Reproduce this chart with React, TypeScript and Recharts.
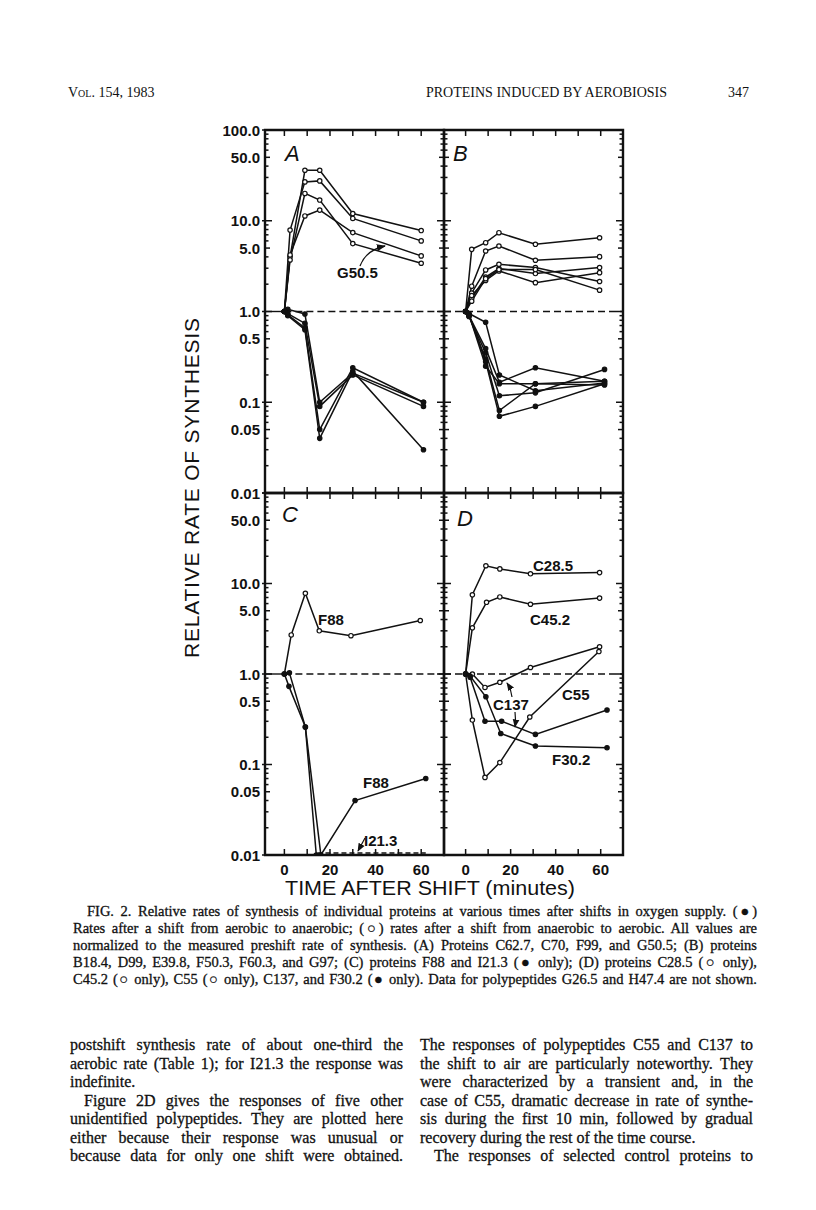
import React from 'react';
import { LineChart, Line, XAxis, YAxis, ReferenceLine, ReferenceArea } from 'recharts';

// --- values (minutes after shift, relative rate) ---

// panel A, shift to aerobic (open) and to anaerobic (filled)
const A_UP_T = [0, 2.5, 9, 15.5, 30, 60];
const A_UP_1 = [1, 4.0, 36, 36, 12, 7.8];
const A_UP_2 = [1, 7.9, 26.8, 27.5, 10.6, 6.0];
const A_UP_3 = [1, 3.7, 20, 16.9, 5.6, 3.4];
const A_UP_4 = [1, 4.2, 11.3, 13.1, 7.4, 4.1];
const A_DN_T = [0, 1.5, 9, 15.5, 30, 61];
const A_DN_1 = [1, 1.06, 0.94, 0.1, 0.21, 0.1];
const A_DN_2 = [1, 0.95, 0.74, 0.09, 0.2, 0.09];
const A_DN_3 = [1, 0.92, 0.66, 0.05, 0.24, 0.1];
const A_DN_4 = [1, 0.9, 0.63, 0.04, 0.22, 0.03];

// panel B
const B_UP_T = [0, 2.7, 8.9, 14.8, 31, 59.5];
const B_UP_1 = [1, 4.84, 5.73, 7.38, 5.5, 6.5];
const B_UP_2 = [1, 1.9, 4.64, 5.27, 3.67, 4.02];
const B_UP_3 = [1, 1.6, 2.87, 3.31, 3.05, 2.14];
const B_UP_4 = [1, 1.4, 2.4, 2.97, 2.62, 3.05];
const B_UP_5 = [1, 1.5, 2.2, 2.8, 2.08, 2.68];
const B_UP_6 = [1, 1.3, 2.3, 2.9, 2.9, 1.72];
const B_DN_T = [0, 1.5, 8.9, 15, 31, 61.7];
const B_DN_1 = [1, 0.95, 0.76, 0.2, 0.134, 0.163];
const B_DN_2 = [1, 0.9, 0.39, 0.166, 0.24, 0.17];
const B_DN_3 = [1, 0.92, 0.25, 0.16, 0.16, 0.155];
const B_DN_4 = [1, 0.88, 0.35, 0.118, 0.127, 0.23];
const B_DN_5 = [1, 0.9, 0.3, 0.081, 0.16, 0.17];
const B_DN_6 = [1, 0.93, 0.28, 0.07, 0.09, 0.16];

// panel C
const C_F88_UP_T = [0, 3, 9.2, 15.3, 29.2, 59.6];
const C_F88_UP = [1, 2.7, 7.8, 3.0, 2.65, 3.9];
const C_F88_DN_T = [0, 2.2, 9.2, 16, 31, 62];
const C_F88_DN = [1, 1.03, 0.26, 0.01, 0.04, 0.07];
const C_I21_T = [0, 2, 9.2, 14];
const C_I21 = [1, 0.73, 0.26, 0.01];
const C_I21_TAIL_T = [14.5, 62];
const C_I21_TAIL = [0.0105, 0.0105];

// panel D
const D_C285_T = [0, 3, 9, 15.2, 28.8, 59.5];
const D_C285 = [1, 7.5, 15.7, 14.5, 12.8, 13.2];
const D_C452_T = [0, 3, 9.3, 15.2, 28.8, 59.5];
const D_C452 = [1, 3.24, 6.2, 7.1, 5.9, 6.9];
const D_C137_UP_T = [0, 3, 8.6, 15.2, 28.8, 59.5];
const D_C137_UP = [1, 1.0, 0.71, 0.81, 1.18, 2.0];
const D_C137_DN_T = [0, 2, 8.6, 16, 31, 62.8];
const D_C137_DN = [1, 0.92, 0.3, 0.3, 0.215, 0.4];
const D_C55_T = [0, 3, 8.6, 15.2, 28.5, 59.2];
const D_C55 = [1, 0.31, 0.072, 0.105, 0.335, 1.77];
const D_F302_T = [0, 2, 9, 15.6, 31, 62.8];
const D_F302 = [1, 0.95, 0.56, 0.22, 0.16, 0.153];

// axis ticks
const LOG_TICKS = [
  0.01, 0.02, 0.03, 0.04, 0.05, 0.06, 0.07, 0.08, 0.09,
  0.1, 0.2, 0.3, 0.4, 0.5, 0.6, 0.7, 0.8, 0.9,
  1, 2, 3, 4, 5, 6, 7, 8, 9,
  10, 20, 30, 40, 50, 60, 70, 80, 90, 100,
];
const Y_LABEL_VALUES = [100, 50, 10, 5, 1, 0.5, 0.1, 0.05, 0.01];
const Y_LABEL_TEXT = ['100.0', '50.0', '10.0', '5.0', '1.0', '0.5', '0.1', '0.05', '0.01'];
const X_TICKS = [0, 10, 20, 30, 40, 50, 60];
const X_LABELS = [0, 20, 40, 60];

const INK = '#111';
const SANS = '"Liberation Sans", Arial, Helvetica, sans-serif';
const SERIF = '"Liberation Serif", "Times New Roman", Times, serif';
const ML = 70;
const MT = 12;
const MR = 12;
const MB = 30;
const AX = 10; // size given to the axes themselves

const zip = (ts: number[], vs: number[]) => ts.map((t, i) => ({ t, v: vs[i] }));

type Series = { data: { t: number; v: number }[]; open?: boolean; dashed?: boolean };

function tickLen(v: number) {
  const l = Math.log10(v);
  if (Math.abs(l - Math.round(l)) < 1e-6) return 7;
  const m = v / Math.pow(10, Math.floor(l + 1e-9));
  if (Math.abs(m - 5) < 1e-6) return 5;
  return 3.5;
}

function labelFor(v: number) {
  const i = Y_LABEL_VALUES.findIndex((x) => Math.abs(x - v) < 1e-9);
  return i < 0 ? null : Y_LABEL_TEXT[i];
}

interface PanelProps {
  left: number;
  top: number;
  w: number;
  h: number;
  xDomain: [number, number];
  series: Series[];
  yLabels: boolean;
  skipTopLabel?: boolean;
  xLabels: boolean;
  solidStart?: boolean;
}

function Panel({ left, top, w, h, xDomain, series, yLabels, skipTopLabel, xLabels, solidStart }: PanelProps) {
  const renderYTick = (props: any) => {
    const { y, payload } = props;
    const v = payload.value;
    const len = tickLen(v);
    const lab = yLabels ? labelFor(v) : null;
    const showLab = lab && !(skipTopLabel && v === 100);
    return (
      <g>
        <line x1={ML - (len === 7 && yLabels ? 3 : 0)} x2={ML + len} y1={y} y2={y} stroke={INK} strokeWidth={1.5} />
        <line x1={ML + w} x2={ML + w - len} y1={y} y2={y} stroke={INK} strokeWidth={1.5} />
        {showLab && (
          <text x={ML - 5} y={y} textAnchor="end" dominantBaseline="central" fontFamily={SANS} fontWeight="bold" fontSize={15} fill={INK}>
            {lab}
          </text>
        )}
      </g>
    );
  };

  const renderXTick = (props: any) => {
    const { x, payload } = props;
    const v = payload.value;
    return (
      <g>
        <line x1={x} x2={x} y1={MT} y2={MT + 6} stroke={INK} strokeWidth={1.5} />
        <line x1={x} x2={x} y1={MT + h} y2={MT + h - 6} stroke={INK} strokeWidth={1.5} />
        {xLabels && X_LABELS.includes(v) && (
          <text x={x} y={MT + h + 14} textAnchor="middle" dominantBaseline="central" fontFamily={SANS} fontWeight="bold" fontSize={15} fill={INK}>
            {v}
          </text>
        )}
      </g>
    );
  };

  return (
    <div style={{ position: 'absolute', left: left - ML, top: top - MT }}>
      <LineChart width={w + ML + MR} height={h + MT + MB} margin={{ top: MT, right: MR, bottom: MB - AX, left: ML - AX }}>
        <XAxis
          type="number"
          dataKey="t"
          domain={xDomain}
          allowDataOverflow
          ticks={X_TICKS}
          interval={0}
          height={AX}
          axisLine={false}
          tickLine={false}
          tick={renderXTick}
        />
        <YAxis
          type="number"
          scale="log"
          domain={[0.01, 100]}
          allowDataOverflow
          ticks={LOG_TICKS}
          interval={0}
          width={AX}
          axisLine={false}
          tickLine={false}
          tick={renderYTick}
        />
        <ReferenceArea x1={xDomain[0]} x2={xDomain[1]} y1={0.01} y2={100} fill="none" stroke={INK} strokeWidth={2.4} />
        {solidStart && (
          <ReferenceLine segment={[{ x: xDomain[0], y: 1 }, { x: 0, y: 1 }]} stroke={INK} strokeWidth={1.4} />
        )}
        <ReferenceLine
          segment={[{ x: solidStart ? 0 : xDomain[0], y: 1 }, { x: xDomain[1], y: 1 }]}
          stroke={INK}
          strokeWidth={1.3}
          strokeDasharray="7 4"
        />
        {series.map((s, i) => (
          <Line
            key={i}
            data={s.data}
            dataKey="v"
            type="linear"
            stroke={INK}
            strokeWidth={1.5}
            strokeDasharray={s.dashed ? '5 3' : undefined}
            dot={s.dashed ? false : { r: 2.2, fill: s.open ? '#fff' : INK, stroke: INK, strokeWidth: 1.2 }}
            isAnimationActive={false}
          />
        ))}
      </LineChart>
    </div>
  );
}

const SERIES_A: Series[] = [
  { data: zip(A_UP_T, A_UP_1), open: true },
  { data: zip(A_UP_T, A_UP_2), open: true },
  { data: zip(A_UP_T, A_UP_3), open: true },
  { data: zip(A_UP_T, A_UP_4), open: true },
  { data: zip(A_DN_T, A_DN_1) },
  { data: zip(A_DN_T, A_DN_2) },
  { data: zip(A_DN_T, A_DN_3) },
  { data: zip(A_DN_T, A_DN_4) },
];
const SERIES_B: Series[] = [
  { data: zip(B_UP_T, B_UP_1), open: true },
  { data: zip(B_UP_T, B_UP_2), open: true },
  { data: zip(B_UP_T, B_UP_3), open: true },
  { data: zip(B_UP_T, B_UP_4), open: true },
  { data: zip(B_UP_T, B_UP_5), open: true },
  { data: zip(B_UP_T, B_UP_6), open: true },
  { data: zip(B_DN_T, B_DN_1) },
  { data: zip(B_DN_T, B_DN_2) },
  { data: zip(B_DN_T, B_DN_3) },
  { data: zip(B_DN_T, B_DN_4) },
  { data: zip(B_DN_T, B_DN_5) },
  { data: zip(B_DN_T, B_DN_6) },
];
const SERIES_C: Series[] = [
  { data: zip(C_F88_UP_T, C_F88_UP), open: true },
  { data: zip(C_F88_DN_T, C_F88_DN) },
  { data: zip(C_I21_T, C_I21) },
  { data: zip(C_I21_TAIL_T, C_I21_TAIL), dashed: true },
];
const SERIES_D: Series[] = [
  { data: zip(D_C285_T, D_C285), open: true },
  { data: zip(D_C452_T, D_C452), open: true },
  { data: zip(D_C137_UP_T, D_C137_UP), open: true },
  { data: zip(D_C137_DN_T, D_C137_DN) },
  { data: zip(D_C55_T, D_C55), open: true },
  { data: zip(D_F302_T, D_F302) },
];

const CAPTION = [
  'FIG. 2. Relative rates of synthesis of individual proteins at various times after shifts in oxygen supply. (\u25CF)',
  'Rates after a shift from aerobic to anaerobic; (\u25CB) rates after a shift from anaerobic to aerobic. All values are',
  'normalized to the measured preshift rate of synthesis. (A) Proteins C62.7, C70, F99, and G50.5; (B) proteins',
  'B18.4, D99, E39.8, F50.3, F60.3, and G97; (C) proteins F88 and I21.3 (\u25CF only); (D) proteins C28.5 (\u25CB only),',
  'C45.2 (\u25CB only), C55 (\u25CB only), C137, and F30.2 (\u25CF only). Data for polypeptides G26.5 and H47.4 are not shown.',
];
const BODY_LEFT = [
  'postshift synthesis rate of about one-third the',
  'aerobic rate (Table 1); for I21.3 the response was',
  'indefinite.',
  'Figure 2D gives the responses of five other',
  'unidentified polypeptides. They are plotted here',
  'either because their response was unusual or',
  'because data for only one shift were obtained.',
];
const BODY_LEFT_INDENT = [false, false, false, true, false, false, false];
const BODY_LEFT_JUSTIFY = [true, true, false, true, true, true, true];
const BODY_RIGHT = [
  'The responses of polypeptides C55 and C137 to',
  'the shift to air are particularly noteworthy. They',
  'were characterized by a transient and, in the',
  'case of C55, dramatic decrease in rate of synthe-',
  'sis during the first 10 min, followed by gradual',
  'recovery during the rest of the time course.',
  'The responses of selected control proteins to',
];
const BODY_RIGHT_INDENT = [false, false, false, false, false, false, true];
const BODY_RIGHT_JUSTIFY = [true, true, true, true, true, false, true];

function TextLine({ text, left, width, cy, size, lh, justify, indent }: any) {
  return (
    <div
      style={{
        position: 'absolute',
        left,
        width,
        top: cy - lh / 2,
        height: lh,
        lineHeight: lh + 'px',
        fontFamily: SERIF,
        fontSize: size,
        color: INK,
        whiteSpace: 'nowrap',
        textAlign: justify ? 'justify' : 'left',
        textAlignLast: justify ? 'justify' : 'left',
        paddingLeft: indent ? 14 : 0,
        boxSizing: 'border-box',
        WebkitTextStroke: '0.3px #111',
      }}
    >
      {text}
    </div>
  );
}

export default function App() {
  const labelStyle = { fontFamily: SANS, fontSize: 15, fontWeight: 'bold', fill: INK } as const;
  return (
    <div style={{ position: 'absolute', left: 0, top: 0, width: 816, height: 1210, background: '#fff', overflow: 'hidden' }}>
      {/* running head */}
      <div style={{ position: 'absolute', left: 68, top: 85, fontFamily: SERIF, fontSize: 14, color: INK, fontVariant: 'small-caps' }}>
        Vol. 154, 1983
      </div>
      <div style={{ position: 'absolute', left: 426, top: 85, fontFamily: SERIF, fontSize: 14, color: INK }}>
        PROTEINS INDUCED BY AEROBIOSIS
      </div>
      <div style={{ position: 'absolute', left: 728, top: 85, fontFamily: SERIF, fontSize: 14, color: INK }}>347</div>

      <Panel left={265} top={130} w={179} h={363} xDomain={[-8.5, 70]} series={SERIES_A} yLabels xLabels={false} solidStart />
      <Panel left={444} top={130} w={179} h={363} xDomain={[-9.6, 69.9]} series={SERIES_B} yLabels={false} xLabels={false} />
      <Panel left={265} top={493} w={179} h={362} xDomain={[-8.5, 70]} series={SERIES_C} yLabels skipTopLabel xLabels solidStart />
      <Panel left={444} top={493} w={179} h={362} xDomain={[-9.6, 69.9]} series={SERIES_D} yLabels={false} xLabels />

      <svg width={816} height={1210} style={{ position: 'absolute', left: 0, top: 0, pointerEvents: 'none' }}>
        <defs>
          <marker id="ah" viewBox="0 0 10 10" refX="9" refY="5" markerWidth="7" markerHeight="7" orient="auto-start-reverse">
            <path d="M0,1 L10,5 L0,9 z" fill={INK} />
          </marker>
        </defs>
        <text
          transform="translate(191,488) rotate(-90)"
          textAnchor="middle"
          dominantBaseline="central"
          fontFamily={SANS}
          fontSize={21}
          fill={INK}
          textLength={340}
          lengthAdjust="spacing"
        >
          RELATIVE RATE OF SYNTHESIS
        </text>
        <text x={430} y={888} textAnchor="middle" dominantBaseline="central" fontFamily={SANS} fontSize={20} fill={INK} textLength={290} lengthAdjust="spacingAndGlyphs">
          TIME AFTER SHIFT (minutes)
        </text>

        <text x={285} y={161} fontFamily={SANS} fontStyle="italic" fontSize={22} fill={INK}>A</text>
        <text x={453} y={161} fontFamily={SANS} fontStyle="italic" fontSize={22} fill={INK}>B</text>
        <text x={282} y={522} fontFamily={SANS} fontStyle="italic" fontSize={22} fill={INK}>C</text>
        <text x={457} y={526} fontFamily={SANS} fontStyle="italic" fontSize={22} fill={INK}>D</text>

        <text x={337} y={278} {...labelStyle}>G50.5</text>
        <path d="M360,266 Q366,250 385,246" fill="none" stroke={INK} strokeWidth={1.3} markerEnd="url(#ah)" />

        <text x={318} y={625} {...labelStyle}>F88</text>
        <text x={363} y={788} {...labelStyle}>F88</text>
        <text x={364} y={846} {...labelStyle}>I21.3</text>
        <path d="M365,838 L358,851" fill="none" stroke={INK} strokeWidth={1.2} markerEnd="url(#ah)" />

        <text x={533} y={571} {...labelStyle}>C28.5</text>
        <text x={530} y={625} {...labelStyle}>C45.2</text>
        <text x={493} y={710} {...labelStyle}>C137</text>
        <path d="M512,697 Q511,689 507,683" fill="none" stroke={INK} strokeWidth={1.2} markerEnd="url(#ah)" />
        <path d="M515,712 Q516,720 515,727" fill="none" stroke={INK} strokeWidth={1.2} markerEnd="url(#ah)" />
        <text x={562} y={700} {...labelStyle}>C55</text>
        <text x={552} y={765} {...labelStyle}>F30.2</text>
      </svg>

      {CAPTION.map((line, i) => (
        <TextLine key={'c' + i} text={line} left={73} width={684} cy={911 + i * 17} size={14.5} lh={16} justify indent={i === 0} />
      ))}
      {BODY_LEFT.map((line, i) => (
        <TextLine
          key={'l' + i}
          text={line}
          left={70}
          width={333}
          cy={1045 + i * 18.5}
          size={16}
          lh={18}
          justify={BODY_LEFT_JUSTIFY[i]}
          indent={BODY_LEFT_INDENT[i]}
        />
      ))}
      {BODY_RIGHT.map((line, i) => (
        <TextLine
          key={'r' + i}
          text={line}
          left={420}
          width={333}
          cy={1045 + i * 18.5}
          size={16}
          lh={18}
          justify={BODY_RIGHT_JUSTIFY[i]}
          indent={BODY_RIGHT_INDENT[i]}
        />
      ))}
    </div>
  );
}
